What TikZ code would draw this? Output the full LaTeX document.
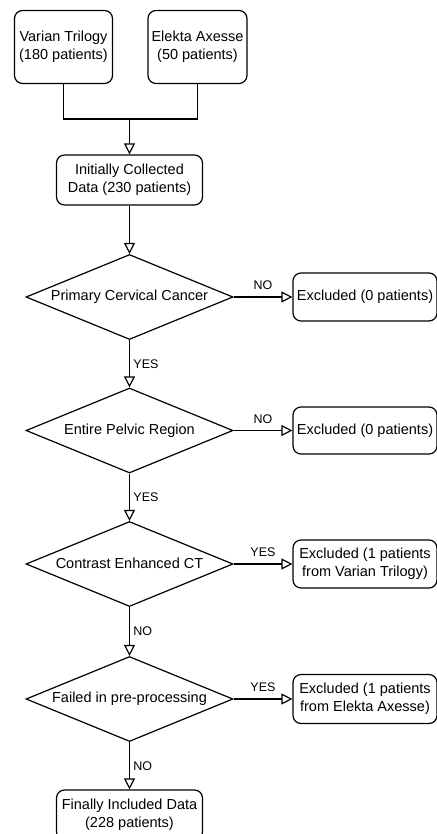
\documentclass[tikz,border=0pt]{standalone}
\usepackage{fontspec}
\setmainfont{Liberation Sans}
\usetikzlibrary{shapes.geometric,arrows.meta}
\newcommand{\canvaswidth}{436}
\newcommand{\canvasheight}{834}
\newcommand{\colx}{129.5}
\tikzstyle{block}=[rectangle, draw, line width=1.2pt, rounded corners=8pt, align=center, inner sep=0pt, font=\fontsize{14.5}{18}\selectfont]
\tikzstyle{decision}=[diamond, draw, line width=1.2pt, aspect=2.44, minimum width=207pt, minimum height=85pt, inner sep=0pt, font=\fontsize{14.5}{18}\selectfont]
\tikzstyle{line}=[draw, line width=1.2pt, -{Triangle[open, length=11pt, width=11pt]}]
\tikzstyle{lbl}=[font=\fontsize{12.5}{14}\selectfont]

\begin{document}
\begin{tikzpicture}[x=1pt, y=-1pt]
        \useasboundingbox (0,0) rectangle (\canvaswidth,\canvasheight);

        % sources
        \node[block, minimum width=98pt, minimum height=73pt] (varian) at (63.5,47) {Varian Trilogy\\(180 patients)};
        \node[block, minimum width=99pt, minimum height=73pt] (elekta) at (197.5,47) {Elekta Axesse\\(50 patients)};
        \node[block, minimum width=146pt, minimum height=50pt] (collected) at (\colx,180) {Initially Collected\\Data (230 patients)};

        % checks
        \node[decision] (d1) at (\colx,297) {\raisebox{2pt}{Primary Cervical Cancer}};
        \node[decision] (d2) at (\colx,430.5) {\raisebox{2pt}{Entire Pelvic Region}};
        \node[decision] (d3) at (\colx,564) {\raisebox{2pt}{Contrast Enhanced CT}};
        \node[decision] (d4) at (\colx,699) {\raisebox{2pt}{Failed in pre-processing}};

        % excluded boxes
        \node[block, minimum width=144pt, minimum height=48pt] (ex1) at (365,297) {Excluded (0 patients)};
        \node[block, minimum width=144pt, minimum height=47pt] (ex2) at (365,430.5) {Excluded (0 patients)};
        \node[block, minimum width=144pt, minimum height=48pt] (ex3) at (365,564) {Excluded (1 patients\\from Varian Trilogy)};
        \node[block, minimum width=144pt, minimum height=49pt] (ex4) at (365,699) {Excluded (1 patients\\from Elekta Axesse)};

        \node[block, minimum width=146pt, minimum height=50pt] (final) at (\colx,815) {Finally Included Data\\(228 patients)};

        % merge the two sources
        \coordinate (join) at (\colx,119);
        \draw[line width=1.2pt] (varian.south) |- (join);
        \draw[line width=1.2pt] (elekta.south) |- (join);
        \draw[line] (join) -- (collected.north);
        \draw[line] (collected.south) -- (d1.north);

        % main column
        \draw[line] (d1.south) -- (d2.north) node[midway, right, lbl] {YES};
        \draw[line] (d2.south) -- (d3.north) node[midway, right, lbl] {YES};
        \draw[line] (d3.south) -- (d4.north) node[midway, right, lbl] {NO};
        \draw[line] (d4.south) -- (final.north) node[midway, right, lbl] {NO};

        % draw exclusions
        \foreach \i/\lab in {1/NO,2/NO,3/YES,4/YES} {
            \draw[line] (d\i.east) -- (ex\i.west) node[midway, above, yshift=3pt, lbl] {\lab};
        }
    \end{tikzpicture}
\end{document}
